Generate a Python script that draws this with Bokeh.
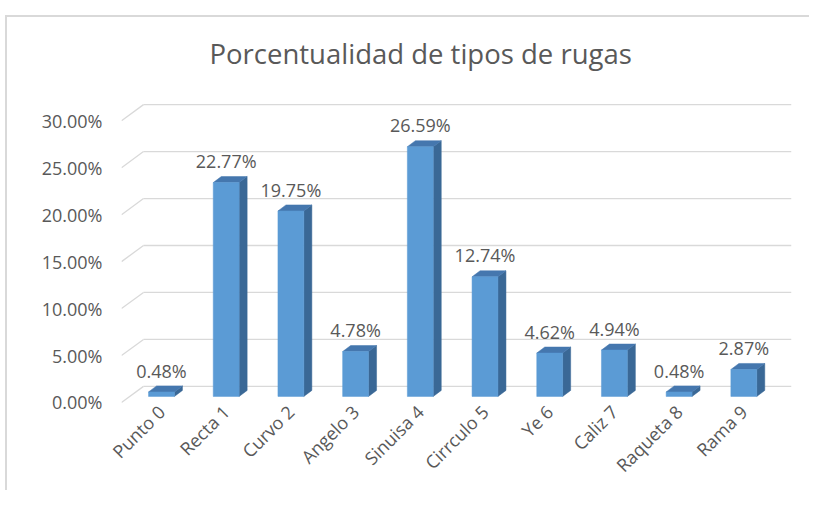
import math
from bokeh.plotting import figure
from bokeh.models import Range1d, FixedTicker, PrintfTickFormatter, ColumnDataSource
from bokeh.core.properties import value
from bokeh.embed import file_html
from bokeh.resources import INLINE

# ---- data ----
categories = ["Punto 0", "Recta 1", "Curvo 2", "Angelo 3", "Sinuisa 4",
              "Cirrculo 5", "Ye 6", "Caliz 7", "Raqueta 8", "Rama 9"]
percentages = [0.48, 22.77, 19.75, 4.78, 26.59, 12.74, 4.62, 4.94, 0.48, 2.87]
y_ticks = [0, 5, 10, 15, 20, 25, 30]
title_text = "Porcentualidad de tipos de rugas"

# ---- style constants (3D look) ----
FONT = "Open Sans"
TXT = "#595959"
GRID = "#D9D9D9"
FRONT = "#5B9BD5"
SIDE = "#3A6896"
TOP = "#4577AE"
wall_dx, wall_dy = 0.34, 1.715     # depth of the side wall (data units)
bar_w = 0.40
bar_dx, bar_dy = 0.124, 0.643      # depth of each bar (data units)
bar_base = 0.643

W, H = 809, 490
p = figure(width=W, height=H, output_backend="svg", toolbar_location=None,
           x_range=Range1d(-0.618, 9.737), y_range=Range1d(-0.214, 32.58),
           min_border_left=121, min_border_right=18, min_border_top=96,
           min_border_bottom=86, title=title_text)
# light-gray chart-area border (top and left edges), drawn behind a transparent border fill
p.styles = {"background": ("linear-gradient(#D9D9D9,#D9D9D9) 5px 15px / 100% 2px no-repeat, "
                           "linear-gradient(#D9D9D9,#D9D9D9) 5px 15px / 2px 100% no-repeat, white")}
p.outline_line_color = None
p.xgrid.visible = False
p.ygrid.visible = False
p.background_fill_color = "white"
p.border_fill_color = None

p.title.text_font = FONT
p.title.text_font_size = "27.5px"
p.title.text_font_style = "normal"
p.title.text_color = TXT
p.title.align = "left"
p.title.offset = 88
p.title.standoff = 49

# ---- walls / gridlines ----
x0 = p.x_range.start
x1 = p.x_range.end
gx0 = [x0 + wall_dx for _ in y_ticks]
gx1 = [x1 for _ in y_ticks]
gy = [t + wall_dy for t in y_ticks]
p.segment(x0=gx0, y0=gy, x1=gx1, y1=gy, line_color=GRID, line_width=1.3)
p.segment(x0=[x0] * len(y_ticks), y0=y_ticks, x1=gx0, y1=gy,
          line_color=GRID, line_width=1.3)

# ---- bars ----
fx, fy, sx, sy, tx, ty = [], [], [], [], [], []
for i, v in enumerate(percentages):
    l, r = i - bar_w / 2, i + bar_w / 2
    b, t = bar_base, bar_base + v
    fx.append([l, r, r, l]); fy.append([b, b, t, t])
    sx.append([r, r + bar_dx, r + bar_dx, r]); sy.append([b, b + bar_dy, t + bar_dy, t])
    tx.append([l, r, r + bar_dx, l + bar_dx]); ty.append([t, t, t + bar_dy, t + bar_dy])
p.patches(sx, sy, fill_color=SIDE, line_color=SIDE, line_width=0.5)
p.patches(tx, ty, fill_color=TOP, line_color=TOP, line_width=0.5)
p.patches(fx, fy, fill_color=FRONT, line_color=FRONT, line_width=0.5)

# ---- value labels ----
src = ColumnDataSource(dict(
    x=list(range(len(percentages))),
    y=[bar_base + v + bar_dy + 0.35 for v in percentages],
    txt=[f"{v:.2f}%" for v in percentages]))
p.text(x="x", y="y", text="txt", source=src, text_align="center",
       text_baseline="bottom", text_font=value(FONT), text_font_size="18px",
       text_color=TXT)

# ---- axes ----
p.yaxis.ticker = FixedTicker(ticks=y_ticks)
p.yaxis.formatter = PrintfTickFormatter(format="%.2f%%")
p.yaxis.axis_line_color = None
p.yaxis.major_tick_line_color = None
p.yaxis.minor_tick_line_color = None
p.yaxis.major_tick_out = 0
p.yaxis.minor_tick_out = 0
p.yaxis.major_label_text_font = FONT
p.yaxis.major_label_text_font_size = "18px"
p.yaxis.major_label_text_color = TXT
p.yaxis.major_label_standoff = 19

p.xaxis.ticker = FixedTicker(ticks=list(range(len(categories))))
p.xaxis.major_label_overrides = {i: c for i, c in enumerate(categories)}
p.xaxis.major_label_orientation = math.pi / 4
p.xaxis.axis_line_color = None
p.xaxis.major_tick_line_color = None
p.xaxis.minor_tick_line_color = None
p.xaxis.major_tick_out = 0
p.xaxis.minor_tick_out = 0
p.xaxis.major_label_text_font = FONT
p.xaxis.major_label_text_font_size = "18px"
p.xaxis.major_label_text_color = TXT
p.xaxis.major_label_standoff = 4

open("out.html", "w").write(file_html(p, INLINE))
